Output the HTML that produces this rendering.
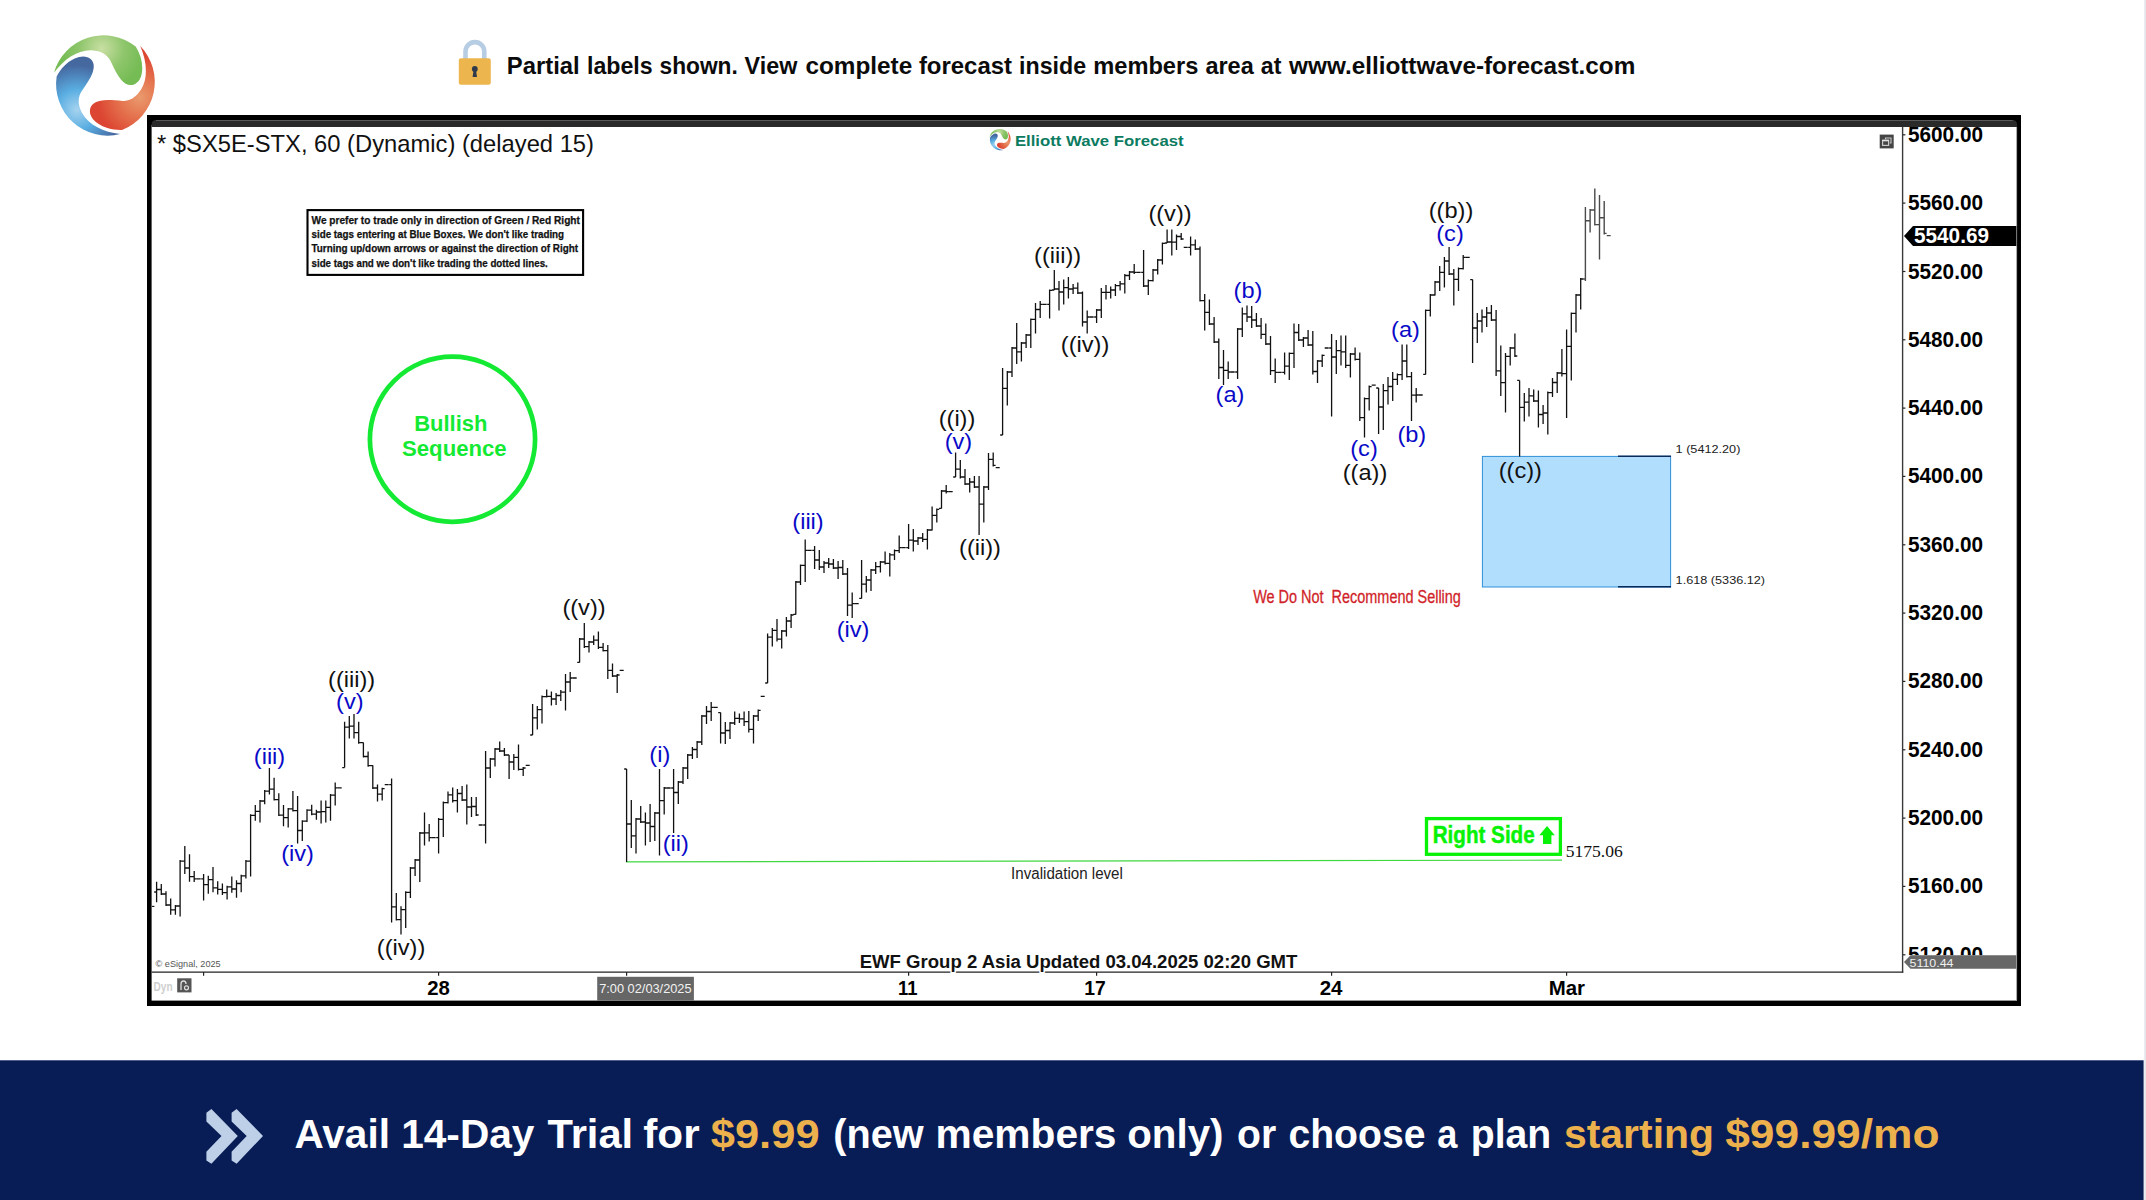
<!DOCTYPE html>
<html><head><meta charset="utf-8"><title>Chart</title>
<style>html,body{margin:0;padding:0;background:#fff;overflow:hidden}body{width:2146px;height:1200px}svg text{white-space:pre}</style></head>
<body>
<svg width="2146" height="1200" viewBox="0 0 2146 1200" style="display:block">
<defs>
<radialGradient id="gG" gradientUnits="userSpaceOnUse" cx="-3" cy="-35" r="40"><stop offset="0" stop-color="#c9dfa3"/><stop offset="0.55" stop-color="#8fc66c"/><stop offset="1" stop-color="#76bc55"/></radialGradient>
<radialGradient id="gR" gradientUnits="userSpaceOnUse" cx="-6" cy="-36" r="42"><stop offset="0" stop-color="#ea9a6e"/><stop offset="0.5" stop-color="#e4704c"/><stop offset="1" stop-color="#dc4532"/></radialGradient>
<radialGradient id="gB" gradientUnits="userSpaceOnUse" cx="-8" cy="-36" r="44"><stop offset="0" stop-color="#a6d3ef"/><stop offset="0.45" stop-color="#5aaee2"/><stop offset="1" stop-color="#45679f"/></radialGradient>
<path id="sw" d="M-49.8,-11.4 A50.5,50.5 0 0 1 30.3,-37 C35,-29.5 37.3,-21 36.6,-13 C35.9,-6 33,-1.2 28,0.4 C23.5,1.7 19.5,-0.5 16,-4.5 C12,-9 9,-16 5.4,-23.3 C2.5,-28.8 -3,-32.8 -13,-33.4 C-27,-33.8 -40,-24.5 -49.8,-11.4 Z"/>
<g id="logo"><use href="#sw" fill="url(#gG)"/><use href="#sw" fill="url(#gR)" transform="rotate(120)"/><use href="#sw" fill="url(#gB)" transform="rotate(240)"/></g>
<filter id="soft" x="-5%" y="-5%" width="110%" height="110%"><feGaussianBlur stdDeviation="0.6"/></filter>
</defs>
<rect width="2146" height="1200" fill="#fff"/>
<rect x="2144.3" y="0" width="1.7" height="1200" fill="#e4e5ea"/>
<g transform="translate(104.8,84.3) scale(1.02)" filter="url(#soft)"><use href="#logo"/></g>
<path d="M465.5,60 V51.5 A9.4,9.4 0 0 1 484.3,51.5 V60" fill="none" stroke="#b6cde3" stroke-width="4.6"/>
<rect x="458.8" y="58.2" width="32" height="26.5" rx="2.2" fill="#edb54e"/>
<circle cx="474.8" cy="69" r="2.9" fill="#2f3b4d"/><path d="M473.6,70 L472.6,77 H477 L476,70 Z" fill="#2f3b4d"/>
<text x="506.8" y="73.8" font-size="23.8" fill="#0b0b0b" font-weight="bold" text-anchor="start" font-family="Liberation Sans, sans-serif"  textLength="72.9" lengthAdjust="spacingAndGlyphs">Partial</text>
<text x="587.0" y="73.8" font-size="23.8" fill="#0b0b0b" font-weight="bold" text-anchor="start" font-family="Liberation Sans, sans-serif"  textLength="65.7" lengthAdjust="spacingAndGlyphs">labels</text>
<text x="659.5" y="73.8" font-size="23.8" fill="#0b0b0b" font-weight="bold" text-anchor="start" font-family="Liberation Sans, sans-serif"  textLength="78.3" lengthAdjust="spacingAndGlyphs">shown.</text>
<text x="744.6" y="73.8" font-size="23.8" fill="#0b0b0b" font-weight="bold" text-anchor="start" font-family="Liberation Sans, sans-serif"  textLength="52.7" lengthAdjust="spacingAndGlyphs">View</text>
<text x="805.4" y="73.8" font-size="23.8" fill="#0b0b0b" font-weight="bold" text-anchor="start" font-family="Liberation Sans, sans-serif"  textLength="106.8" lengthAdjust="spacingAndGlyphs">complete</text>
<text x="918.9" y="73.8" font-size="23.8" fill="#0b0b0b" font-weight="bold" text-anchor="start" font-family="Liberation Sans, sans-serif"  textLength="93.1" lengthAdjust="spacingAndGlyphs">forecast</text>
<text x="1019.1" y="73.8" font-size="23.8" fill="#0b0b0b" font-weight="bold" text-anchor="start" font-family="Liberation Sans, sans-serif"  textLength="67.0" lengthAdjust="spacingAndGlyphs">inside</text>
<text x="1093.2" y="73.8" font-size="23.8" fill="#0b0b0b" font-weight="bold" text-anchor="start" font-family="Liberation Sans, sans-serif"  textLength="105.2" lengthAdjust="spacingAndGlyphs">members</text>
<text x="1205.4" y="73.8" font-size="23.8" fill="#0b0b0b" font-weight="bold" text-anchor="start" font-family="Liberation Sans, sans-serif"  textLength="48.3" lengthAdjust="spacingAndGlyphs">area</text>
<text x="1260.8" y="73.8" font-size="23.8" fill="#0b0b0b" font-weight="bold" text-anchor="start" font-family="Liberation Sans, sans-serif"  textLength="20.6" lengthAdjust="spacingAndGlyphs">at</text>
<text x="1289.1" y="73.8" font-size="23.8" fill="#0b0b0b" font-weight="bold" text-anchor="start" font-family="Liberation Sans, sans-serif"  textLength="346.2" lengthAdjust="spacingAndGlyphs">www.elliottwave-forecast.com</text>
<rect x="147" y="115" width="1874" height="891" fill="#000"/>
<rect x="151.6" y="125" width="1865.4" height="875.6" fill="#fff"/>
<path d="M151.6,127 V124.5 Q151.6,120 156,120 H2012.6 Q2017,120 2017,124.5 V127 Z" fill="#2a2a2a"/>
<path d="M156,120.5 H2012.6" stroke="#5a5a5a" stroke-width="1"/>
<path d="M2016.6,127 V1000.6" stroke="#9a9a9a" stroke-width="0.9"/>
<path d="M1902.6,127 V972.6" stroke="#3a3a3a" stroke-width="1.4"/>
<path d="M151.6,972.2 H1903.3" stroke="#222" stroke-width="1.3"/>
<path d="M1903,134.8 H1905.4" stroke="#222" stroke-width="1.2"/>
<text x="1908.0" y="141.8" font-size="21.5" fill="#000" font-weight="bold" text-anchor="start" font-family="Liberation Sans, sans-serif"  textLength="75.0" lengthAdjust="spacingAndGlyphs">5600.00</text>
<path d="M1903,203.1 H1905.4" stroke="#222" stroke-width="1.2"/>
<text x="1908.0" y="210.1" font-size="21.5" fill="#000" font-weight="bold" text-anchor="start" font-family="Liberation Sans, sans-serif"  textLength="75.0" lengthAdjust="spacingAndGlyphs">5560.00</text>
<path d="M1903,271.5 H1905.4" stroke="#222" stroke-width="1.2"/>
<text x="1908.0" y="278.5" font-size="21.5" fill="#000" font-weight="bold" text-anchor="start" font-family="Liberation Sans, sans-serif"  textLength="75.0" lengthAdjust="spacingAndGlyphs">5520.00</text>
<path d="M1903,339.8 H1905.4" stroke="#222" stroke-width="1.2"/>
<text x="1908.0" y="346.8" font-size="21.5" fill="#000" font-weight="bold" text-anchor="start" font-family="Liberation Sans, sans-serif"  textLength="75.0" lengthAdjust="spacingAndGlyphs">5480.00</text>
<path d="M1903,408.1 H1905.4" stroke="#222" stroke-width="1.2"/>
<text x="1908.0" y="415.1" font-size="21.5" fill="#000" font-weight="bold" text-anchor="start" font-family="Liberation Sans, sans-serif"  textLength="75.0" lengthAdjust="spacingAndGlyphs">5440.00</text>
<path d="M1903,476.4 H1905.4" stroke="#222" stroke-width="1.2"/>
<text x="1908.0" y="483.4" font-size="21.5" fill="#000" font-weight="bold" text-anchor="start" font-family="Liberation Sans, sans-serif"  textLength="75.0" lengthAdjust="spacingAndGlyphs">5400.00</text>
<path d="M1903,544.8 H1905.4" stroke="#222" stroke-width="1.2"/>
<text x="1908.0" y="551.8" font-size="21.5" fill="#000" font-weight="bold" text-anchor="start" font-family="Liberation Sans, sans-serif"  textLength="75.0" lengthAdjust="spacingAndGlyphs">5360.00</text>
<path d="M1903,613.1 H1905.4" stroke="#222" stroke-width="1.2"/>
<text x="1908.0" y="620.1" font-size="21.5" fill="#000" font-weight="bold" text-anchor="start" font-family="Liberation Sans, sans-serif"  textLength="75.0" lengthAdjust="spacingAndGlyphs">5320.00</text>
<path d="M1903,681.4 H1905.4" stroke="#222" stroke-width="1.2"/>
<text x="1908.0" y="688.4" font-size="21.5" fill="#000" font-weight="bold" text-anchor="start" font-family="Liberation Sans, sans-serif"  textLength="75.0" lengthAdjust="spacingAndGlyphs">5280.00</text>
<path d="M1903,749.8 H1905.4" stroke="#222" stroke-width="1.2"/>
<text x="1908.0" y="756.8" font-size="21.5" fill="#000" font-weight="bold" text-anchor="start" font-family="Liberation Sans, sans-serif"  textLength="75.0" lengthAdjust="spacingAndGlyphs">5240.00</text>
<path d="M1903,818.1 H1905.4" stroke="#222" stroke-width="1.2"/>
<text x="1908.0" y="825.1" font-size="21.5" fill="#000" font-weight="bold" text-anchor="start" font-family="Liberation Sans, sans-serif"  textLength="75.0" lengthAdjust="spacingAndGlyphs">5200.00</text>
<path d="M1903,886.4 H1905.4" stroke="#222" stroke-width="1.2"/>
<text x="1908.0" y="893.4" font-size="21.5" fill="#000" font-weight="bold" text-anchor="start" font-family="Liberation Sans, sans-serif"  textLength="75.0" lengthAdjust="spacingAndGlyphs">5160.00</text>
<path d="M1903,954.8 H1905.4" stroke="#222" stroke-width="1.2"/>
<clipPath id="c5120"><rect x="1904" y="940" width="112" height="15.3"/></clipPath>
<text x="1908.0" y="961.8" font-size="21.5" fill="#000" font-weight="bold" text-anchor="start" font-family="Liberation Sans, sans-serif" clip-path="url(#c5120)" textLength="75.0" lengthAdjust="spacingAndGlyphs">5120.00</text>
<path d="M1904,236 L1913,226 H2016.3 V246 H1913 Z" fill="#000"/>
<text x="1914.0" y="242.5" font-size="21.3" fill="#fff" font-weight="bold" text-anchor="start" font-family="Liberation Sans, sans-serif"  textLength="75.0" lengthAdjust="spacingAndGlyphs">5540.69</text>
<path d="M1904,962 L1910.5,955.3 H2016.3 V968.7 H1910.5 Z" fill="#676767"/>
<text x="1909.5" y="966.6" font-size="11.6" fill="#f0f0f0" font-weight="normal" text-anchor="start" font-family="Liberation Sans, sans-serif"  textLength="44.0" lengthAdjust="spacingAndGlyphs">5110.44</text>
<rect x="1879.7" y="134.6" width="14" height="13.8" fill="#454545"/>
<path d="M1885.5,139.3 V138 H1891 V143 H1889.8" fill="none" stroke="#c8c8c8" stroke-width="1.1"/><rect x="1882.6" y="140.6" width="6" height="4.8" fill="none" stroke="#c8c8c8" stroke-width="1.2"/><path d="M1882.2,140.4 H1889" stroke="#e2e2e2" stroke-width="1.6"/>
<text x="438.6" y="994.9" font-size="21" fill="#000" font-weight="bold" text-anchor="middle" font-family="Liberation Sans, sans-serif"  textLength="22.6" lengthAdjust="spacingAndGlyphs">28</text>
<text x="907.8" y="994.9" font-size="21" fill="#000" font-weight="bold" text-anchor="middle" font-family="Liberation Sans, sans-serif"  textLength="19.5" lengthAdjust="spacingAndGlyphs">11</text>
<text x="1095.0" y="994.9" font-size="21" fill="#000" font-weight="bold" text-anchor="middle" font-family="Liberation Sans, sans-serif"  textLength="21.5" lengthAdjust="spacingAndGlyphs">17</text>
<text x="1331.1" y="994.9" font-size="21" fill="#000" font-weight="bold" text-anchor="middle" font-family="Liberation Sans, sans-serif"  textLength="22.8" lengthAdjust="spacingAndGlyphs">24</text>
<text x="1566.8" y="994.9" font-size="21" fill="#000" font-weight="bold" text-anchor="middle" font-family="Liberation Sans, sans-serif"  textLength="36.3" lengthAdjust="spacingAndGlyphs">Mar</text>
<path d="M203.6,972 V975.8" stroke="#222" stroke-width="1.2"/>
<path d="M438.6,972 V975.8" stroke="#222" stroke-width="1.2"/>
<path d="M626.6,972 V975.8" stroke="#222" stroke-width="1.2"/>
<path d="M908.6,972 V975.8" stroke="#222" stroke-width="1.2"/>
<path d="M1096.6,972 V975.8" stroke="#222" stroke-width="1.2"/>
<path d="M1331.6,972 V975.8" stroke="#222" stroke-width="1.2"/>
<path d="M1566.6,972 V975.8" stroke="#222" stroke-width="1.2"/>
<rect x="597.2" y="976.8" width="96.7" height="23.8" fill="#666"/>
<text x="599.2" y="993.2" font-size="12.8" fill="#f2f2f2" font-weight="normal" text-anchor="start" font-family="Liberation Sans, sans-serif"  textLength="92.4" lengthAdjust="spacingAndGlyphs">7:00 02/03/2025</text>
<text x="153.6" y="991.2" font-size="12" fill="#cfcfcf" font-weight="bold" text-anchor="start" font-family="Liberation Sans, sans-serif"  textLength="19.0" lengthAdjust="spacingAndGlyphs">Dyn</text>
<rect x="177.2" y="978.3" width="14.3" height="14.1" fill="#555"/>
<path d="M181,990 V984 Q181,981 183.5,981 Q186,981 186,984" fill="none" stroke="#ddd" stroke-width="1.3"/><circle cx="186.5" cy="987.8" r="2" fill="none" stroke="#ddd" stroke-width="1.2"/>
<text x="155.6" y="967.2" font-size="9.2" fill="#555" font-weight="normal" text-anchor="start" font-family="Liberation Sans, sans-serif"  textLength="65.0" lengthAdjust="spacingAndGlyphs">© eSignal, 2025</text>
<text x="157.0" y="152.1" font-size="24.6" fill="#111" font-weight="normal" text-anchor="start" font-family="Liberation Sans, sans-serif"  textLength="437.0" lengthAdjust="spacingAndGlyphs">* $SX5E-STX, 60 (Dynamic) (delayed 15)</text>
<g transform="translate(1000.1,139.4) scale(0.215)"><use href="#logo"/></g>
<text x="1014.9" y="145.5" font-size="15.5" fill="#0c7b5f" font-weight="bold" text-anchor="start" font-family="Liberation Sans, sans-serif"  textLength="168.7" lengthAdjust="spacingAndGlyphs">Elliott Wave Forecast</text>
<rect x="307.5" y="210.1" width="275.6" height="64.8" fill="#fff" stroke="#000" stroke-width="2.1"/>
<text x="311.5" y="223.9" font-size="10.4" fill="#111" font-weight="bold" text-anchor="start" font-family="Liberation Sans, sans-serif" stroke="#111" stroke-width="0.25" textLength="268.4" lengthAdjust="spacingAndGlyphs">We prefer to trade only in direction of Green / Red Right</text>
<text x="311.5" y="238.2" font-size="10.4" fill="#111" font-weight="bold" text-anchor="start" font-family="Liberation Sans, sans-serif" stroke="#111" stroke-width="0.25" textLength="252.6" lengthAdjust="spacingAndGlyphs">side tags entering at Blue Boxes. We don't like trading</text>
<text x="311.5" y="252.4" font-size="10.4" fill="#111" font-weight="bold" text-anchor="start" font-family="Liberation Sans, sans-serif" stroke="#111" stroke-width="0.25" textLength="266.6" lengthAdjust="spacingAndGlyphs">Turning up/down arrows or against the direction of Right</text>
<text x="311.5" y="266.6" font-size="10.4" fill="#111" font-weight="bold" text-anchor="start" font-family="Liberation Sans, sans-serif" stroke="#111" stroke-width="0.25" textLength="236.3" lengthAdjust="spacingAndGlyphs">side tags and we don't like trading the dotted lines.</text>
<circle cx="452.5" cy="439.2" r="82.6" fill="none" stroke="#14ea33" stroke-width="4.7"/>
<text x="414.2" y="431.1" font-size="22.2" fill="#14ea33" font-weight="bold" text-anchor="start" font-family="Liberation Sans, sans-serif"  textLength="73.3" lengthAdjust="spacingAndGlyphs">Bullish</text>
<text x="402.0" y="456.1" font-size="22.2" fill="#14ea33" font-weight="bold" text-anchor="start" font-family="Liberation Sans, sans-serif"  textLength="104.7" lengthAdjust="spacingAndGlyphs">Sequence</text>
<rect x="1482.4" y="456.4" width="188.2" height="130.6" fill="#b2defd" stroke="#2f8fd9" stroke-width="1"/>
<path d="M1618,456.2 H1671 M1618,586.8 H1671" stroke="#0b2a5c" stroke-width="1.6"/>
<text x="1675.6" y="453.2" font-size="11.6" fill="#222" font-weight="normal" text-anchor="start" font-family="Liberation Sans, sans-serif"  textLength="64.8" lengthAdjust="spacingAndGlyphs">1 (5412.20)</text>
<text x="1675.6" y="583.6" font-size="11.6" fill="#222" font-weight="normal" text-anchor="start" font-family="Liberation Sans, sans-serif"  textLength="89.5" lengthAdjust="spacingAndGlyphs">1.618 (5336.12)</text>
<text x="1253.2" y="603.0" font-size="18.8" fill="#d11f2a" font-weight="normal" text-anchor="start" font-family="Liberation Sans, sans-serif" xml:space="preserve" stroke="#d11f2a" stroke-width="0.3" textLength="207.7" lengthAdjust="spacingAndGlyphs">We Do Not  Recommend Selling</text>
<path d="M626,861.8 L1562,860.2" stroke="#3fd83f" stroke-width="1.2"/>
<text x="1011.1" y="878.6" font-size="15.6" fill="#222" font-weight="normal" text-anchor="start" font-family="Liberation Sans, sans-serif"  textLength="111.8" lengthAdjust="spacingAndGlyphs">Invalidation level</text>
<rect x="1426.5" y="818.6" width="133.9" height="35.7" fill="#fff" stroke="#08f208" stroke-width="3.3"/>
<text x="1432.7" y="843.3" font-size="24.5" fill="#08f208" font-weight="bold" text-anchor="start" font-family="Liberation Sans, sans-serif" stroke="#08f208" stroke-width="0.5" textLength="102.0" lengthAdjust="spacingAndGlyphs">Right Side</text>
<path d="M1547.05,826 L1554.8,835.2 H1551.4 V843.9 H1543 V835.2 H1539.3 Z" fill="#08f208"/>
<text x="1565.7" y="856.6" font-size="16.1" fill="#111" font-weight="normal" text-anchor="start" font-family="Liberation Serif, serif"  textLength="57.0" lengthAdjust="spacingAndGlyphs">5175.06</text>
<text x="859.7" y="967.9" font-size="18.9" fill="#111" font-weight="bold" text-anchor="start" font-family="Liberation Sans, sans-serif" stroke="#fff" stroke-width="3" paint-order="stroke" textLength="437.7" lengthAdjust="spacingAndGlyphs">EWF Group 2 Asia Updated 03.04.2025 02:20 GMT</text>
<path d="M156.6,881.8V902.3M154.2,892.0h2.4M156.6,889.5h2.4M161.3,884.0V895.0M158.9,889.5h2.4M161.3,894.0h2.4M166.0,891.3V906.0M163.6,894.0h2.4M166.0,905.0h2.4M170.7,898.6V914.8M168.3,905.0h2.4M170.7,909.9h2.4M175.4,905.0V914.8M173.0,909.9h2.4M175.4,906.0h2.4M180.1,860.1V916.6M177.7,906.0h2.4M180.1,861.1h2.4M184.8,846.0V873.9M182.4,861.1h2.4M184.8,868.0h2.4M189.5,854.3V881.8M187.1,868.0h2.4M189.5,876.6h2.4M194.2,871.1V882.1M191.8,876.6h2.4M194.2,878.8h2.4M196.7,878.8h4M203.6,873.9V900.5M201.2,878.8h2.4M203.6,884.7h2.4M208.3,875.7V893.7M205.9,884.7h2.4M208.3,879.7h2.4M213.0,867.1V892.2M210.6,879.7h2.4M213.0,887.9h2.4M217.7,881.2V894.6M215.3,887.9h2.4M217.7,889.3h2.4M222.4,883.6V895.0M220.0,889.3h2.4M222.4,892.7h2.4M227.1,885.8V899.5M224.7,892.7h2.4M227.1,886.8h2.4M231.8,876.6V892.8M229.4,886.8h2.4M231.8,889.0h2.4M236.5,880.3V897.7M234.1,889.0h2.4M236.5,883.5h2.4M241.2,874.8V892.2M238.8,883.5h2.4M241.2,875.8h2.4M245.9,860.1V878.5M243.5,875.8h2.4M245.9,861.1h2.4M250.6,814.3V876.6M248.2,861.1h2.4M250.6,815.3h2.4M255.3,805.1V820.7M252.9,815.3h2.4M255.3,811.3h2.4M260.0,800.0V822.6M257.6,811.3h2.4M260.0,801.0h2.4M264.7,790.1V804.2M262.3,801.0h2.4M264.7,791.1h2.4M269.4,767.9V794.5M267.0,791.1h2.4M269.4,789.1h2.4M274.1,777.7V800.6M271.7,789.1h2.4M274.1,799.6h2.4M278.8,793.2V816.1M276.4,799.6h2.4M278.8,815.1h2.4M283.5,805.1V826.2M281.1,815.1h2.4M283.5,817.7h2.4M288.2,807.9V827.5M285.8,817.7h2.4M288.2,808.9h2.4M292.9,790.9V811.6M290.5,808.9h2.4M292.9,810.6h2.4M297.6,796.0V843.6M295.2,810.6h2.4M297.6,830.5h2.4M302.3,820.2V840.9M299.9,830.5h2.4M302.3,821.2h2.4M307.0,809.2V822.0M304.6,821.2h2.4M307.0,810.2h2.4M311.7,804.8V815.2M309.3,810.2h2.4M311.7,814.2h2.4M316.4,809.7V819.8M314.0,814.2h2.4M316.4,812.0h2.4M321.1,800.6V823.5M318.7,812.0h2.4M321.1,811.6h2.4M325.8,800.6V822.6M323.4,811.6h2.4M325.8,807.4h2.4M330.5,794.1V820.7M328.1,807.4h2.4M330.5,795.1h2.4M335.2,782.6V805.5M332.8,795.1h2.4M335.2,787.9h2.4M337.7,787.9h4M344.6,721.8V767.6M342.2,767.6h2.4M344.6,727.2h2.4M349.3,715.9V738.4M346.9,727.2h2.4M349.3,726.2h2.4M354.0,714.1V738.4M351.6,726.2h2.4M354.0,732.7h2.4M358.7,721.8V743.7M356.3,732.7h2.4M358.7,742.7h2.4M363.4,742.5V757.5M361.0,742.7h2.4M363.4,756.5h2.4M368.1,751.6V766.7M365.7,756.5h2.4M368.1,765.7h2.4M372.8,765.2V789.0M370.4,765.7h2.4M372.8,788.0h2.4M377.5,784.4V801.5M375.1,788.0h2.4M377.5,794.1h2.4M382.2,787.7V800.6M379.8,794.1h2.4M382.2,788.7h2.4M384.7,784.6h4M391.6,778.6V922.4M389.2,784.6h2.4M391.6,906.9h2.4M396.3,893.1V920.6M393.9,906.9h2.4M396.3,919.6h2.4M401.0,906.3V934.4M398.6,919.6h2.4M401.0,909.6h2.4M405.7,891.3V927.9M403.3,909.6h2.4M405.7,892.3h2.4M410.4,867.0V898.0M408.0,892.3h2.4M410.4,868.0h2.4M415.1,859.0V876.0M412.7,868.0h2.4M415.1,860.0h2.4M419.8,832.0V882.0M417.4,860.0h2.4M419.8,833.0h2.4M424.5,812.4V845.6M422.1,833.0h2.4M424.5,832.8h2.4M429.2,824.0V841.6M426.8,832.8h2.4M429.2,837.6h2.4M431.7,837.6h4M438.6,818.0V853.6M436.2,837.6h2.4M438.6,819.3h2.4M443.3,801.6V837.0M440.9,819.3h2.4M443.3,802.6h2.4M448.0,791.6V803.6M445.6,802.6h2.4M448.0,794.9h2.4M452.7,787.4V802.4M450.3,794.9h2.4M452.7,800.7h2.4M457.4,789.0V812.4M455.0,800.7h2.4M457.4,793.5h2.4M462.1,786.0V801.0M459.7,793.5h2.4M462.1,800.0h2.4M466.8,784.4V824.4M464.4,800.0h2.4M466.8,807.0h2.4M471.5,797.0V817.0M469.1,807.0h2.4M471.5,806.5h2.4M476.2,797.0V816.0M473.8,806.5h2.4M476.2,815.0h2.4M478.7,825.0h4M485.6,751.0V843.6M483.2,825.0h2.4M485.6,768.0h2.4M490.3,758.0V778.0M487.9,768.0h2.4M490.3,759.0h2.4M495.0,748.0V766.4M492.6,759.0h2.4M495.0,749.0h2.4M499.7,741.6V752.0M497.3,749.0h2.4M499.7,751.0h2.4M504.4,748.0V756.0M502.0,751.0h2.4M504.4,755.0h2.4M509.1,755.0V779.0M506.7,755.0h2.4M509.1,762.0h2.4M513.8,754.0V770.0M511.4,762.0h2.4M513.8,757.4h2.4M518.5,744.4V770.4M516.1,757.4h2.4M518.5,769.4h2.4M523.2,767.0V776.0M520.8,769.4h2.4M523.2,768.0h2.4M525.7,765.4h4M532.6,704.0V735.0M530.2,735.0h2.4M532.6,717.8h2.4M537.3,706.0V729.6M534.9,717.8h2.4M537.3,709.6h2.4M542.0,695.6V723.6M539.6,709.6h2.4M542.0,696.6h2.4M546.7,689.4V697.4M544.3,696.6h2.4M546.7,696.4h2.4M551.4,691.6V705.4M549.0,696.4h2.4M551.4,699.0h2.4M556.1,693.0V705.0M553.7,699.0h2.4M556.1,695.5h2.4M560.8,690.0V701.0M558.4,695.5h2.4M560.8,692.2h2.4M565.5,674.0V710.4M563.1,692.2h2.4M565.5,682.0h2.4M570.2,672.0V692.0M567.8,682.0h2.4M570.2,678.0h2.4M572.7,678.0h4M579.6,638.0V662.4M577.2,662.4h2.4M579.6,639.0h2.4M584.3,623.0V648.0M581.9,639.0h2.4M584.3,646.7h2.4M589.0,641.0V652.4M586.6,646.7h2.4M589.0,642.0h2.4M593.7,635.6V645.0M591.3,642.0h2.4M593.7,640.2h2.4M598.4,631.4V649.0M596.0,640.2h2.4M598.4,647.3h2.4M603.1,643.0V651.6M600.7,647.3h2.4M603.1,650.6h2.4M607.8,645.0V679.0M605.4,650.6h2.4M607.8,670.3h2.4M612.5,663.6V677.0M610.1,670.3h2.4M612.5,676.0h2.4M617.2,674.0V693.0M614.8,676.0h2.4M617.2,675.0h2.4M619.7,670.4h4M626.6,769.0V862.0M624.2,769.0h2.4M626.6,824.0h2.4M631.3,800.0V848.0M628.9,824.0h2.4M631.3,835.8h2.4M636.0,818.0V853.6M633.6,835.8h2.4M636.0,819.0h2.4M640.7,806.0V823.0M638.3,819.0h2.4M640.7,822.0h2.4M645.4,812.4V845.6M643.0,822.0h2.4M645.4,823.0h2.4M650.1,804.0V842.0M647.7,823.0h2.4M650.1,826.5h2.4M654.8,812.0V841.0M652.4,826.5h2.4M654.8,813.0h2.4M659.5,769.0V855.6M657.1,813.0h2.4M659.5,800.7h2.4M664.2,787.0V814.4M661.8,800.7h2.4M664.2,788.0h2.4M666.7,788.0h4M673.6,769.0V833.0M671.2,788.0h2.4M673.6,792.5h2.4M678.3,781.0V804.0M675.9,792.5h2.4M678.3,782.0h2.4M683.0,767.0V784.0M680.6,782.0h2.4M683.0,768.0h2.4M687.7,754.0V779.0M685.3,768.0h2.4M687.7,755.0h2.4M692.4,747.0V759.0M690.0,755.0h2.4M692.4,749.5h2.4M697.1,741.0V758.0M694.7,749.5h2.4M697.1,742.0h2.4M701.8,715.0V745.0M699.4,742.0h2.4M701.8,716.0h2.4M706.5,706.0V724.0M704.1,716.0h2.4M706.5,711.5h2.4M711.2,702.0V721.0M708.8,711.5h2.4M711.2,707.4h2.4M713.7,707.4h4M720.6,712.6V743.6M718.2,712.6h2.4M720.6,733.0h2.4M725.3,722.0V744.0M722.9,733.0h2.4M725.3,730.5h2.4M730.0,722.0V739.0M727.6,730.5h2.4M730.0,723.0h2.4M734.7,711.6V725.0M732.3,723.0h2.4M734.7,718.3h2.4M739.4,713.6V723.0M737.0,718.3h2.4M739.4,718.8h2.4M744.1,711.6V726.0M741.7,718.8h2.4M744.1,721.7h2.4M748.8,711.0V732.4M746.4,721.7h2.4M748.8,729.3h2.4M753.5,715.0V743.6M751.1,729.3h2.4M753.5,716.0h2.4M758.2,709.4V721.0M755.8,716.0h2.4M758.2,710.4h2.4M760.7,696.4h4M767.6,633.6V683.0M765.2,683.0h2.4M767.6,637.2h2.4M772.3,628.0V646.4M769.9,637.2h2.4M772.3,630.3h2.4M777.0,619.0V641.6M774.6,630.3h2.4M777.0,639.2h2.4M781.7,630.0V648.4M779.3,639.2h2.4M781.7,631.0h2.4M786.4,617.0V636.4M784.0,631.0h2.4M786.4,621.0h2.4M791.1,614.0V628.0M788.7,621.0h2.4M791.1,615.0h2.4M795.8,581.0V614.4M793.4,614.4h2.4M795.8,582.0h2.4M800.5,564.4V585.0M798.1,582.0h2.4M800.5,565.4h2.4M805.2,539.4V582.0M802.8,565.4h2.4M805.2,550.4h2.4M807.7,550.4h4M814.6,546.0V569.0M812.2,550.4h2.4M814.6,560.0h2.4M819.3,550.0V570.0M816.9,560.0h2.4M819.3,567.0h2.4M824.0,561.0V573.0M821.6,567.0h2.4M824.0,563.0h2.4M828.7,558.0V568.0M826.3,563.0h2.4M828.7,564.0h2.4M833.4,559.0V569.0M831.0,564.0h2.4M833.4,568.0h2.4M838.1,561.0V579.0M835.7,568.0h2.4M838.1,567.5h2.4M842.8,560.0V575.0M840.4,567.5h2.4M842.8,574.0h2.4M847.5,568.0V616.0M845.1,574.0h2.4M847.5,605.2h2.4M852.2,592.4V618.0M849.8,605.2h2.4M852.2,603.6h2.4M854.7,603.6h4M861.6,560.0V598.4M859.2,598.4h2.4M861.6,584.2h2.4M866.3,576.0V592.4M863.9,584.2h2.4M866.3,580.0h2.4M871.0,569.0V591.0M868.6,580.0h2.4M871.0,570.0h2.4M875.7,562.0V574.0M873.3,570.0h2.4M875.7,566.7h2.4M880.4,561.0V572.4M878.0,566.7h2.4M880.4,562.0h2.4M885.1,551.4V564.4M882.7,562.0h2.4M885.1,563.4h2.4M889.8,553.0V576.4M887.4,563.4h2.4M889.8,554.8h2.4M894.5,549.6V560.0M892.1,554.8h2.4M894.5,550.6h2.4M899.2,535.6V553.0M896.8,550.6h2.4M899.2,547.6h2.4M901.7,547.6h4M908.6,524.0V549.0M906.2,547.6h2.4M908.6,540.2h2.4M913.3,529.0V551.4M910.9,540.2h2.4M913.3,541.0h2.4M918.0,537.0V545.0M915.6,541.0h2.4M918.0,538.0h2.4M922.7,533.0V542.0M920.3,538.0h2.4M922.7,539.3h2.4M927.4,529.0V549.6M925.0,539.3h2.4M927.4,530.0h2.4M932.1,506.4V530.4M929.7,530.0h2.4M932.1,515.4h2.4M936.8,508.4V522.4M934.4,515.4h2.4M936.8,509.4h2.4M941.5,490.0V508.4M939.1,508.4h2.4M941.5,491.0h2.4M946.2,485.0V493.6M943.8,491.0h2.4M946.2,491.6h2.4M948.7,491.6h4M955.6,452.4V477.0M953.2,477.0h2.4M955.6,469.2h2.4M960.3,460.0V478.4M957.9,469.2h2.4M960.3,477.0h2.4M965.0,469.0V485.0M962.6,477.0h2.4M965.0,484.0h2.4M969.7,478.0V492.4M967.3,484.0h2.4M969.7,482.0h2.4M974.4,476.0V488.0M972.0,482.0h2.4M974.4,487.0h2.4M979.1,476.0V535.0M976.7,487.0h2.4M979.1,504.2h2.4M983.8,486.0V522.4M981.4,504.2h2.4M983.8,487.0h2.4M988.5,453.0V490.0M986.1,487.0h2.4M988.5,459.4h2.4M993.2,452.4V466.4M990.8,459.4h2.4M993.2,465.4h2.4M995.7,467.6h4M1002.6,368.0V435.0M1000.2,435.0h2.4M1002.6,388.3h2.4M1007.3,371.0V405.6M1004.9,388.3h2.4M1007.3,372.0h2.4M1012.0,347.0V377.0M1009.6,372.0h2.4M1012.0,348.0h2.4M1016.7,323.0V364.0M1014.3,348.0h2.4M1016.7,351.8h2.4M1021.4,342.0V361.6M1019.0,351.8h2.4M1021.4,343.0h2.4M1026.1,334.0V348.0M1023.7,343.0h2.4M1026.1,335.0h2.4M1030.8,318.4V348.0M1028.4,335.0h2.4M1030.8,319.4h2.4M1035.5,303.0V333.6M1033.1,319.4h2.4M1035.5,309.5h2.4M1040.2,301.0V318.0M1037.8,309.5h2.4M1040.2,304.4h2.4M1042.7,304.4h4M1049.6,289.4V318.4M1047.2,304.4h2.4M1049.6,290.4h2.4M1054.3,270.0V290.0M1051.9,290.0h2.4M1054.3,289.0h2.4M1059.0,281.0V310.4M1056.6,289.0h2.4M1059.0,292.0h2.4M1063.7,279.6V304.4M1061.3,292.0h2.4M1063.7,287.7h2.4M1068.4,277.0V298.4M1066.0,287.7h2.4M1068.4,289.0h2.4M1073.1,284.0V294.0M1070.7,289.0h2.4M1073.1,288.2h2.4M1077.8,282.4V294.0M1075.4,288.2h2.4M1077.8,293.0h2.4M1082.5,291.6V326.4M1080.1,293.0h2.4M1082.5,322.0h2.4M1087.2,310.4V333.6M1084.8,322.0h2.4M1087.2,317.0h2.4M1089.7,317.0h4M1096.6,309.0V323.0M1094.2,317.0h2.4M1096.6,310.0h2.4M1101.3,288.0V318.0M1098.9,310.0h2.4M1101.3,292.3h2.4M1106.0,285.0V299.6M1103.6,292.3h2.4M1106.0,292.4h2.4M1110.7,286.4V298.4M1108.3,292.4h2.4M1110.7,290.0h2.4M1115.4,284.0V296.0M1113.0,290.0h2.4M1115.4,285.7h2.4M1120.1,281.0V290.4M1117.7,285.7h2.4M1120.1,283.8h2.4M1124.8,274.0V293.6M1122.4,283.8h2.4M1124.8,275.5h2.4M1129.5,271.0V280.0M1127.1,275.5h2.4M1129.5,272.0h2.4M1134.2,264.0V274.0M1131.8,272.0h2.4M1134.2,272.4h2.4M1136.7,272.4h4M1143.6,250.0V287.0M1141.2,272.4h2.4M1143.6,286.0h2.4M1148.3,279.6V295.0M1145.9,286.0h2.4M1148.3,280.6h2.4M1153.0,269.0V281.6M1150.6,280.6h2.4M1153.0,270.0h2.4M1157.7,259.0V274.4M1155.3,270.0h2.4M1157.7,260.0h2.4M1162.4,242.4V264.4M1160.0,260.0h2.4M1162.4,243.4h2.4M1167.1,229.6V243.0M1164.7,243.0h2.4M1167.1,242.0h2.4M1171.8,229.6V255.6M1169.4,242.0h2.4M1171.8,242.2h2.4M1176.5,234.4V250.0M1174.1,242.2h2.4M1176.5,236.5h2.4M1181.2,233.0V240.0M1178.8,236.5h2.4M1181.2,239.0h2.4M1183.7,247.4h4M1190.6,236.4V255.6M1188.2,247.4h2.4M1190.6,244.8h2.4M1195.3,239.6V250.0M1192.9,244.8h2.4M1195.3,249.0h2.4M1200.0,246.4V301.6M1197.6,249.0h2.4M1200.0,300.6h2.4M1204.7,294.0V330.4M1202.3,300.6h2.4M1204.7,312.3h2.4M1209.4,299.6V325.0M1207.0,312.3h2.4M1209.4,324.0h2.4M1214.1,317.0V343.0M1211.7,324.0h2.4M1214.1,342.0h2.4M1218.8,338.4V379.0M1216.4,342.0h2.4M1218.8,367.5h2.4M1223.5,350.0V385.0M1221.1,367.5h2.4M1223.5,370.3h2.4M1228.2,361.6V379.0M1225.8,370.3h2.4M1228.2,372.0h2.4M1230.7,372.0h4M1237.6,328.0V379.0M1235.2,372.0h2.4M1237.6,329.0h2.4M1242.3,307.6V337.0M1239.9,329.0h2.4M1242.3,313.8h2.4M1247.0,305.6V322.0M1244.6,313.8h2.4M1247.0,317.0h2.4M1251.7,306.0V328.0M1249.3,317.0h2.4M1251.7,320.0h2.4M1256.4,313.0V327.0M1254.0,320.0h2.4M1256.4,326.0h2.4M1261.1,318.0V339.0M1258.7,326.0h2.4M1261.1,334.3h2.4M1265.8,323.6V345.0M1263.4,334.3h2.4M1265.8,344.0h2.4M1270.5,336.0V375.0M1268.1,344.0h2.4M1270.5,370.7h2.4M1275.2,358.4V383.0M1272.8,370.7h2.4M1275.2,372.4h2.4M1277.7,372.4h4M1284.6,352.4V374.4M1282.2,372.4h2.4M1284.6,366.2h2.4M1289.3,352.4V380.0M1286.9,366.2h2.4M1289.3,353.4h2.4M1294.0,323.6V368.0M1291.6,353.4h2.4M1294.0,332.5h2.4M1298.7,324.0V341.0M1296.3,332.5h2.4M1298.7,340.0h2.4M1303.4,337.0V347.0M1301.0,340.0h2.4M1303.4,338.0h2.4M1308.1,330.0V346.0M1305.7,338.0h2.4M1308.1,345.0h2.4M1312.8,331.0V374.4M1310.4,345.0h2.4M1312.8,371.5h2.4M1317.5,360.0V383.0M1315.1,371.5h2.4M1317.5,361.0h2.4M1322.2,354.4V367.0M1319.8,361.0h2.4M1322.2,355.4h2.4M1324.7,348.0h4M1331.6,334.0V416.4M1329.2,348.0h2.4M1331.6,357.0h2.4M1336.3,340.0V374.0M1333.9,357.0h2.4M1336.3,350.6h2.4M1341.0,335.6V365.6M1338.6,350.6h2.4M1341.0,351.8h2.4M1345.7,335.6V368.0M1343.3,351.8h2.4M1345.7,365.3h2.4M1350.4,353.0V377.6M1348.0,365.3h2.4M1350.4,354.0h2.4M1355.1,347.6V360.4M1352.7,354.0h2.4M1355.1,359.4h2.4M1359.8,352.4V421.0M1357.4,359.4h2.4M1359.8,417.6h2.4M1364.5,397.6V437.6M1362.1,417.6h2.4M1364.5,398.6h2.4M1369.2,385.6V410.4M1366.8,398.6h2.4M1369.2,386.6h2.4M1371.7,385.2h4M1378.6,388.0V434.0M1376.2,388.0h2.4M1378.6,407.0h2.4M1383.3,384.0V430.0M1380.9,407.0h2.4M1383.3,390.7h2.4M1388.0,377.0V404.4M1385.6,390.7h2.4M1388.0,386.5h2.4M1392.7,372.0V401.0M1390.3,386.5h2.4M1392.7,379.3h2.4M1397.4,373.6V385.0M1395.0,379.3h2.4M1397.4,374.6h2.4M1402.1,344.4V380.0M1399.7,374.6h2.4M1402.1,361.0h2.4M1406.8,344.4V377.6M1404.4,361.0h2.4M1406.8,376.6h2.4M1411.5,372.0V421.0M1409.1,376.6h2.4M1411.5,395.2h2.4M1416.2,388.0V402.4M1413.8,395.2h2.4M1416.2,395.0h2.4M1418.7,395.0h4M1425.6,309.4V374.4M1423.2,374.4h2.4M1425.6,310.4h2.4M1430.3,294.0V316.4M1427.9,310.4h2.4M1430.3,295.0h2.4M1435.0,281.0V295.6M1432.6,295.0h2.4M1435.0,282.0h2.4M1439.7,266.0V291.0M1437.3,282.0h2.4M1439.7,272.3h2.4M1444.4,257.0V287.6M1442.0,272.3h2.4M1444.4,261.0h2.4M1449.1,247.0V275.0M1446.7,261.0h2.4M1449.1,274.0h2.4M1453.8,269.0V305.6M1451.4,274.0h2.4M1453.8,279.3h2.4M1458.5,267.6V291.0M1456.1,279.3h2.4M1458.5,268.6h2.4M1463.2,255.0V269.6M1460.8,268.6h2.4M1463.2,257.4h2.4M1465.7,257.4h4M1472.6,279.6V363.0M1470.2,279.6h2.4M1472.6,328.0h2.4M1477.3,313.0V343.0M1474.9,328.0h2.4M1477.3,321.0h2.4M1482.0,309.6V332.4M1479.6,321.0h2.4M1482.0,317.0h2.4M1486.7,307.0V327.0M1484.3,317.0h2.4M1486.7,313.0h2.4M1491.4,305.0V321.0M1489.0,313.0h2.4M1491.4,320.0h2.4M1496.1,310.0V376.0M1493.7,320.0h2.4M1496.1,370.8h2.4M1500.8,345.6V396.0M1498.4,370.8h2.4M1500.8,382.7h2.4M1505.5,353.0V412.4M1503.1,382.7h2.4M1505.5,356.3h2.4M1510.2,347.0V365.6M1507.8,356.3h2.4M1510.2,348.0h2.4M1514.9,333.6V357.0M1512.5,348.0h2.4M1514.9,356.0h2.4M1519.6,380.4V456.4M1517.2,380.4h2.4M1519.6,407.3h2.4M1524.3,393.0V421.6M1521.9,407.3h2.4M1524.3,402.2h2.4M1529.0,388.0V416.4M1526.6,402.2h2.4M1529.0,395.8h2.4M1533.7,389.6V402.0M1531.3,395.8h2.4M1533.7,401.0h2.4M1538.4,390.4V427.6M1536.0,401.0h2.4M1538.4,414.5h2.4M1543.1,405.0V424.0M1540.7,414.5h2.4M1543.1,413.0h2.4M1547.8,391.6V434.4M1545.4,413.0h2.4M1547.8,392.6h2.4M1552.5,378.0V397.0M1550.1,392.6h2.4M1552.5,382.5h2.4M1557.2,372.0V393.0M1554.8,382.5h2.4M1557.2,373.0h2.4M1561.9,349.0V376.4M1559.5,373.0h2.4M1561.9,373.7h2.4M1566.6,329.4V418.0M1564.2,373.7h2.4M1566.6,346.4h2.4M1571.3,312.4V380.4M1568.9,346.4h2.4M1571.3,313.4h2.4M1576.0,294.0V332.4M1573.6,313.4h2.4M1576.0,295.0h2.4M1580.7,278.0V309.6M1578.3,295.0h2.4M1580.7,279.0h2.4" stroke="#111" stroke-width="1.3" fill="none"/>
<path d="M1585.4,207.0V281.0M1583.0,279.0h2.4M1585.4,220.7h2.4M1590.1,209.0V232.4M1587.7,220.7h2.4M1590.1,210.0h2.4M1594.8,188.4V225.6M1592.4,210.0h2.4M1594.8,224.6h2.4M1599.5,195.0V259.6M1597.1,224.6h2.4M1599.5,217.7h2.4M1604.2,201.0V234.4M1601.8,217.7h2.4M1604.2,233.4h2.4M1606.7,235.6h4" stroke="#4a4a4a" stroke-width="1.4" fill="none"/>
<path d="M152,906.4h2.4" stroke="#1c1c1c" stroke-width="1.15"/>
<g transform="translate(269.5,764.2) scale(1.04,1)"><text x="0" y="0" font-size="22.7" fill="#0a0ac8" text-anchor="middle" font-family="Liberation Sans, sans-serif">(iii)</text></g>
<g transform="translate(297.5,861.2) scale(1.04,1)"><text x="0" y="0" font-size="22.7" fill="#0a0ac8" text-anchor="middle" font-family="Liberation Sans, sans-serif">(iv)</text></g>
<g transform="translate(351.6,687.2) scale(1.04,1)"><text x="0" y="0" font-size="22.7" fill="#111" text-anchor="middle" font-family="Liberation Sans, sans-serif">((iii))</text></g>
<g transform="translate(349.8,709.2) scale(1.04,1)"><text x="0" y="0" font-size="22.7" fill="#0a0ac8" text-anchor="middle" font-family="Liberation Sans, sans-serif">(v)</text></g>
<g transform="translate(401.0,954.7) scale(1.04,1)"><text x="0" y="0" font-size="22.7" fill="#111" text-anchor="middle" font-family="Liberation Sans, sans-serif">((iv))</text></g>
<g transform="translate(584.0,615.2) scale(1.04,1)"><text x="0" y="0" font-size="22.7" fill="#111" text-anchor="middle" font-family="Liberation Sans, sans-serif">((v))</text></g>
<g transform="translate(659.8,762.2) scale(1.04,1)"><text x="0" y="0" font-size="22.7" fill="#0a0ac8" text-anchor="middle" font-family="Liberation Sans, sans-serif">(i)</text></g>
<g transform="translate(675.8,851.2) scale(1.04,1)"><text x="0" y="0" font-size="22.7" fill="#0a0ac8" text-anchor="middle" font-family="Liberation Sans, sans-serif">(ii)</text></g>
<g transform="translate(808.0,528.7) scale(1.04,1)"><text x="0" y="0" font-size="22.7" fill="#0a0ac8" text-anchor="middle" font-family="Liberation Sans, sans-serif">(iii)</text></g>
<g transform="translate(853.0,637.2) scale(1.04,1)"><text x="0" y="0" font-size="22.7" fill="#0a0ac8" text-anchor="middle" font-family="Liberation Sans, sans-serif">(iv)</text></g>
<g transform="translate(957.0,426.2) scale(1.04,1)"><text x="0" y="0" font-size="22.7" fill="#111" text-anchor="middle" font-family="Liberation Sans, sans-serif">((i))</text></g>
<g transform="translate(958.4,449.2) scale(1.04,1)"><text x="0" y="0" font-size="22.7" fill="#0a0ac8" text-anchor="middle" font-family="Liberation Sans, sans-serif">(v)</text></g>
<g transform="translate(980.0,555.2) scale(1.04,1)"><text x="0" y="0" font-size="22.7" fill="#111" text-anchor="middle" font-family="Liberation Sans, sans-serif">((ii))</text></g>
<g transform="translate(1057.6,263.2) scale(1.04,1)"><text x="0" y="0" font-size="22.7" fill="#111" text-anchor="middle" font-family="Liberation Sans, sans-serif">((iii))</text></g>
<g transform="translate(1085.0,352.2) scale(1.04,1)"><text x="0" y="0" font-size="22.7" fill="#111" text-anchor="middle" font-family="Liberation Sans, sans-serif">((iv))</text></g>
<g transform="translate(1170.0,221.4) scale(1.04,1)"><text x="0" y="0" font-size="22.7" fill="#111" text-anchor="middle" font-family="Liberation Sans, sans-serif">((v))</text></g>
<g transform="translate(1248.0,297.9) scale(1.04,1)"><text x="0" y="0" font-size="22.7" fill="#0a0ac8" text-anchor="middle" font-family="Liberation Sans, sans-serif">(b)</text></g>
<g transform="translate(1230.0,402.2) scale(1.04,1)"><text x="0" y="0" font-size="22.7" fill="#0a0ac8" text-anchor="middle" font-family="Liberation Sans, sans-serif">(a)</text></g>
<g transform="translate(1405.5,337.2) scale(1.04,1)"><text x="0" y="0" font-size="22.7" fill="#0a0ac8" text-anchor="middle" font-family="Liberation Sans, sans-serif">(a)</text></g>
<g transform="translate(1411.8,442.2) scale(1.04,1)"><text x="0" y="0" font-size="22.7" fill="#0a0ac8" text-anchor="middle" font-family="Liberation Sans, sans-serif">(b)</text></g>
<g transform="translate(1364.0,456.2) scale(1.04,1)"><text x="0" y="0" font-size="22.7" fill="#0a0ac8" text-anchor="middle" font-family="Liberation Sans, sans-serif">(c)</text></g>
<g transform="translate(1365.0,480.2) scale(1.04,1)"><text x="0" y="0" font-size="22.7" fill="#111" text-anchor="middle" font-family="Liberation Sans, sans-serif">((a))</text></g>
<g transform="translate(1451.0,217.7) scale(1.04,1)"><text x="0" y="0" font-size="22.7" fill="#111" text-anchor="middle" font-family="Liberation Sans, sans-serif">((b))</text></g>
<g transform="translate(1450.0,240.8) scale(1.04,1)"><text x="0" y="0" font-size="22.7" fill="#0a0ac8" text-anchor="middle" font-family="Liberation Sans, sans-serif">(c)</text></g>
<g transform="translate(1520.3,477.6) scale(1.04,1)"><text x="0" y="0" font-size="22.7" fill="#111" text-anchor="middle" font-family="Liberation Sans, sans-serif">((c))</text></g>
<rect x="0" y="1060.3" width="2143.6" height="140" fill="#081c56"/>
<path d="M0,3.8 L5,0 L31.4,27 L5,54.9 L0,51.6 V42.8 L15.1,27 L0,12.6 Z" transform="translate(206.4,1108.9)" fill="#bdd0e8"/>
<path d="M0,3.8 L5,0 L31.4,27 L5,54.9 L0,51.6 V42.8 L15.1,27 L0,12.6 Z" transform="translate(231.6,1108.9)" fill="#bdd0e8"/>
<text x="294.5" y="1148.1" font-size="40.5" fill="#fff" font-weight="bold" text-anchor="start" font-family="Liberation Sans, sans-serif"  textLength="95.5" lengthAdjust="spacingAndGlyphs">Avail</text>
<text x="401.2" y="1148.1" font-size="40.5" fill="#fff" font-weight="bold" text-anchor="start" font-family="Liberation Sans, sans-serif"  textLength="133.2" lengthAdjust="spacingAndGlyphs">14-Day</text>
<text x="547.5" y="1148.1" font-size="40.5" fill="#fff" font-weight="bold" text-anchor="start" font-family="Liberation Sans, sans-serif"  textLength="85.7" lengthAdjust="spacingAndGlyphs">Trial</text>
<text x="643.3" y="1148.1" font-size="40.5" fill="#fff" font-weight="bold" text-anchor="start" font-family="Liberation Sans, sans-serif"  textLength="56.3" lengthAdjust="spacingAndGlyphs">for</text>
<text x="710.7" y="1148.1" font-size="40.5" fill="#ecb14c" font-weight="bold" text-anchor="start" font-family="Liberation Sans, sans-serif"  textLength="108.9" lengthAdjust="spacingAndGlyphs">$9.99</text>
<text x="833.3" y="1148.1" font-size="40.5" fill="#fff" font-weight="bold" text-anchor="start" font-family="Liberation Sans, sans-serif"  textLength="90.4" lengthAdjust="spacingAndGlyphs">(new</text>
<text x="935.5" y="1148.1" font-size="40.5" fill="#fff" font-weight="bold" text-anchor="start" font-family="Liberation Sans, sans-serif"  textLength="181.0" lengthAdjust="spacingAndGlyphs">members</text>
<text x="1127.2" y="1148.1" font-size="40.5" fill="#fff" font-weight="bold" text-anchor="start" font-family="Liberation Sans, sans-serif"  textLength="96.3" lengthAdjust="spacingAndGlyphs">only)</text>
<text x="1237.1" y="1148.1" font-size="40.5" fill="#fff" font-weight="bold" text-anchor="start" font-family="Liberation Sans, sans-serif"  textLength="39.1" lengthAdjust="spacingAndGlyphs">or</text>
<text x="1288.4" y="1148.1" font-size="40.5" fill="#fff" font-weight="bold" text-anchor="start" font-family="Liberation Sans, sans-serif"  textLength="137.1" lengthAdjust="spacingAndGlyphs">choose</text>
<text x="1437.2" y="1148.1" font-size="40.5" fill="#fff" font-weight="bold" text-anchor="start" font-family="Liberation Sans, sans-serif"  textLength="20.1" lengthAdjust="spacingAndGlyphs">a</text>
<text x="1470.8" y="1148.1" font-size="40.5" fill="#fff" font-weight="bold" text-anchor="start" font-family="Liberation Sans, sans-serif"  textLength="80.5" lengthAdjust="spacingAndGlyphs">plan</text>
<text x="1564.0" y="1148.1" font-size="40.5" fill="#ecb14c" font-weight="bold" text-anchor="start" font-family="Liberation Sans, sans-serif"  textLength="150.0" lengthAdjust="spacingAndGlyphs">starting</text>
<text x="1725.2" y="1148.1" font-size="40.5" fill="#ecb14c" font-weight="bold" text-anchor="start" font-family="Liberation Sans, sans-serif"  textLength="214.4" lengthAdjust="spacingAndGlyphs">$99.99/mo</text>
</svg>
</body></html>
